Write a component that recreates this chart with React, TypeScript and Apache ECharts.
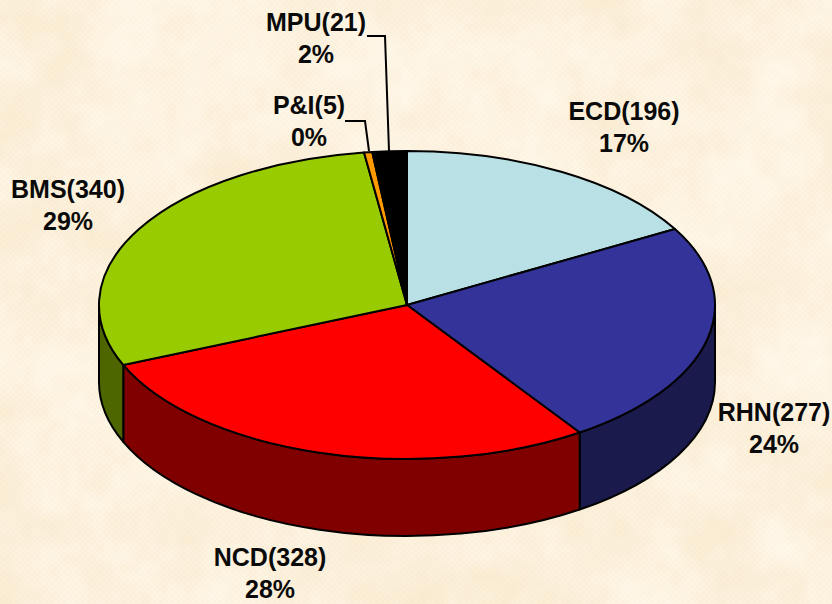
import React, { useEffect, useRef } from "react";
import * as echarts from "echarts";

const categories = ["ECD", "RHN", "NCD", "BMS", "P&I", "MPU"];
const values = [196, 277, 328, 340, 5, 21];
const topColors = ["#B9E0E4", "#333399", "#FF0000", "#99CC00", "#FF9900", "#000000"];
const sideColors = ["#5C7072", "#1A1A4D", "#800000", "#4D6600", "#804D00", "#000000"];

// Layout of the drawing (not data)
const CX = 407, CY = 305, RX = 308, RY = 154, DEPTH = 77;
const labelCentres: Record<string, [number, number]> = {
  ECD: [624, 111], RHN: [774, 412], NCD: [270, 557], BMS: [68, 189], "P&I": [309, 105], MPU: [316, 22],
};
const leaders: Record<string, number[][]> = {
  "P&I": [[345, 121], [365, 121], [369, 151]],
  MPU: [[367, 36], [385, 36], [389, 151]],
};
const LINE_GAP = 32;

const total = values.reduce((a, b) => a + b, 0);

function px(t: number) { return CX + RX * Math.sin(t); }
function py(t: number) { return CY - RY * Math.cos(t); }

function renderSlice(params: any, api: any) {
  const i = params.dataIndex;
  const before = values.slice(0, i).reduce((a, b) => a + b, 0);
  const v = api.value(0) as number;
  const a0 = (before / total) * Math.PI * 2;
  const a1 = ((before + v) / total) * Math.PI * 2;
  const children: any[] = [];
  const line = { stroke: "#000", lineWidth: 2, lineJoin: "round" };

  // side wall: only the front half of the rim (pi/2 .. 3pi/2) is visible
  const s0 = Math.max(a0, Math.PI / 2);
  const s1 = Math.min(a1, (3 * Math.PI) / 2);
  if (s1 > s0) {
    const d =
      `M${px(s0)} ${py(s0)} A${RX} ${RY} 0 0 1 ${px(s1)} ${py(s1)} ` +
      `L${px(s1)} ${py(s1) + DEPTH} A${RX} ${RY} 0 0 0 ${px(s0)} ${py(s0) + DEPTH} Z`;
    children.push({
      type: "path", z2: 1,
      shape: { pathData: d, layout: "none" } as any,
      style: { fill: sideColors[i], ...line },
    });
  }
  // top face
  const large = a1 - a0 > Math.PI ? 1 : 0;
  children.push({
    type: "path", z2: 2,
    shape: { pathData: `M${CX} ${CY} L${px(a0)} ${py(a0)} A${RX} ${RY} 0 ${large} 1 ${px(a1)} ${py(a1)} Z` },
    style: { fill: topColors[i], ...line },
  });

  const name = categories[i];
  const [lx, ly] = labelCentres[name];
  const font = { fontFamily: "'Liberation Sans', Arial, sans-serif", fontWeight: "bold", fontSize: 25, fill: "#0a0a0a", align: "center", verticalAlign: "middle" };
  children.push({ type: "text", z2: 5, x: lx, y: ly, style: { text: `${name}(${v})`, ...font } });
  children.push({ type: "text", z2: 5, x: lx, y: ly + LINE_GAP, style: { text: `${Math.round((v / total) * 100)}%`, ...font } });
  if (leaders[name]) {
    children.push({
      type: "polyline", z2: 4,
      shape: { points: leaders[name] },
      style: { stroke: "#000", lineWidth: 2, fill: "none" },
    });
  }
  return { type: "group", children };
}

// deterministic mottled parchment texture
function parchment(w: number, h: number): string {
  const c = document.createElement("canvas");
  c.width = w; c.height = h;
  const ctx = c.getContext("2d")!;
  const hash = (x: number, y: number) => {
    const s = Math.sin(x * 127.1 + y * 311.7) * 43758.5453;
    return s - Math.floor(s);
  };
  const smooth = (t: number) => t * t * (3 - 2 * t);
  const noise = (x: number, y: number) => {
    const xi = Math.floor(x), yi = Math.floor(y);
    const u = smooth(x - xi), v = smooth(y - yi);
    const a = hash(xi, yi), b = hash(xi + 1, yi), d = hash(xi, yi + 1), e = hash(xi + 1, yi + 1);
    return a + (b - a) * u + (d - a) * v + (a - b - d + e) * u * v;
  };
  const img = ctx.createImageData(w, h);
  for (let y = 0; y < h; y++) {
    for (let x = 0; x < w; x++) {
      const n =
        noise(x / 60, y / 60) * 0.5 + noise(x / 24 + 9, y / 24 + 4) * 0.32 + noise(x / 9 + 3, y / 9 + 7) * 0.18;
      const dither = ((Math.floor(x / 3) + Math.floor(y / 3)) % 2 === 0 ? 1 : -1) * 1.2;
      const k = (n - 0.5) * 2.2;
      const p = (y * w + x) * 4;
      img.data[p] = Math.min(255, 252 + k * 3 + dither * 0.3);
      img.data[p + 1] = 241 + k * 8 + dither;
      img.data[p + 2] = 221 + k * 15 + dither * 1.6;
      img.data[p + 3] = 255;
    }
  }
  ctx.putImageData(img, 0, 0);
  return c.toDataURL("image/png");
}

export default function App() {
  const ref = useRef<HTMLDivElement>(null);
  useEffect(() => {
    document.body.style.margin = "0";
    const el = ref.current!;
    el.style.backgroundImage = `url(${parchment(832, 604)})`;
    const chart = echarts.init(el, undefined, { renderer: "svg" });
    chart.setOption({
      animation: false,
      series: [
        {
          type: "custom",
          coordinateSystem: "none",
          silent: true,
          renderItem: renderSlice,
          data: categories.map((name, i) => ({ name, value: [values[i]] })),
        },
      ],
    });
    return () => chart.dispose();
  }, []);
  return <div ref={ref} style={{ width: 832, height: 604, overflow: "hidden" }} />;
}
